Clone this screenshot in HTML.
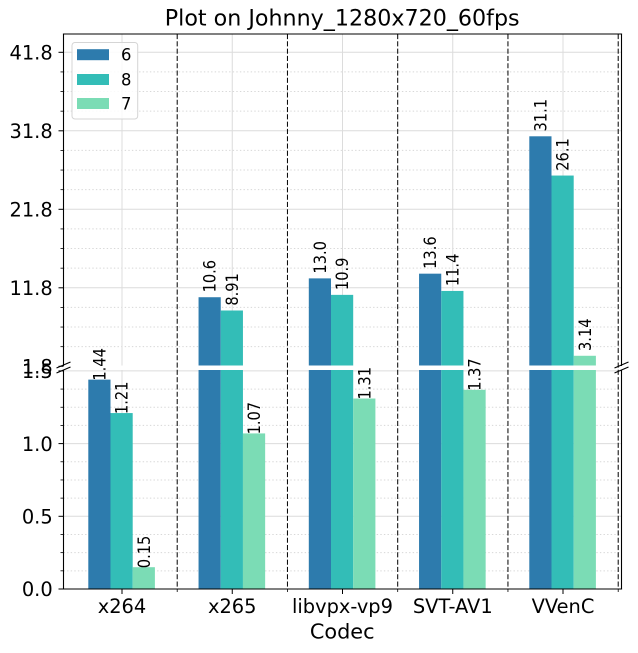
<!DOCTYPE html>
<html>
<head>
<meta charset="utf-8">
<title>Plot on Johnny_1280x720_60fps</title>
<style>
html,body{margin:0;padding:0;background:#fff;width:638px;height:653px;overflow:hidden}
svg{display:block;font-family:"DejaVu Sans","Liberation Sans",sans-serif}
</style>
</head>
<body>
<svg id="chart" xmlns="http://www.w3.org/2000/svg" width="638" height="653" viewBox="0 0 638 653">
  <text x="342.2" y="25.5" font-size="22.2" text-anchor="middle" fill="#000">Plot on Johnny_1280x720_60fps</text>
  <text x="342.2" y="638.5" font-size="20.8" text-anchor="middle" fill="#000">Codec</text>
</svg>
<script>
const categories = ["x264", "x265", "libvpx-vp9", "SVT-AV1", "VVenC"];
const seriesNames = ["6", "8", "7"];
const series6 = [1.44, 10.6, 13.0, 13.6, 31.1];
const series8 = [1.21, 8.91, 10.9, 11.4, 26.1];
const series7 = [0.15, 1.07, 1.31, 1.37, 3.14];
const upperTicks = [1.8, 11.8, 21.8, 31.8, 41.8];
const upperTickLabels = ["1.8", "11.8", "21.8", "31.8", "41.8"];
const lowerTicks = [0, 0.5, 1.0, 1.5];
const lowerTickLabels = ["0.0", "0.5", "1.0", "1.5"];

const seriesValues = [series6, series8, series7];
const seriesColors = ["#2d7bad", "#33bdb7", "#7bdcb5"];
const svg = document.getElementById("chart");
const NS = "http://www.w3.org/2000/svg";

const L = 63.5, R = 621.5, TOP = 34, BREAK_HI = 365.5, BREAK_LO = 370, BOTTOM = 589;
const BAR_W = 22.2;

function xCat(i) { return 122 + 110.25 * i; }
function yUpper(v) { return 366.3 - (v - 1.8) * 7.85; }
function yLower(v) { return 589 - v * 145.4; }

function node(tag, attrs, text) {
  const n = document.createElementNS(NS, tag);
  for (const k in attrs) n.setAttribute(k, attrs[k]);
  if (text !== undefined) n.textContent = text;
  svg.appendChild(n);
  return n;
}
function lbl(v) {
  return v < 1 ? v.toFixed(2) : v.toPrecision(3);
}

/* horizontal grid + ticks */
function drawAxis(ticks, labels, y, top, bottom, prefix) {
  ticks.forEach((t, i) => {
    const yy = y(t);
    if (yy >= top - 0.5 && yy <= bottom + 1 && !(prefix === "upper" && i === 0)) {
      const g = node("line", {x1: L, x2: R, y1: yy, y2: yy, stroke: "#dcdcdc", "stroke-width": 1});
      
      
    }
    const tk = node("line", {x1: L - 5, x2: L, y1: yy, y2: yy, stroke: "#000", "stroke-width": 1});
    
    
    const tx = node("text", {x: 52.7, y: yy + 7.2, "font-size": 19.4, "text-anchor": "end", fill: "#000"}, labels[i]);
    
    
    if (i < ticks.length - 1) {
      for (let m = 1; m < 4; m++) {
        const v = t + (ticks[i + 1] - t) * m / 4;
        const ym = y(v);
        const mg = node("line", {x1: L, x2: R, y1: ym, y2: ym, stroke: "#d8d8d8", "stroke-width": 1, "stroke-dasharray": "1.4 2.2"});
        
        
        const mt = node("line", {x1: L - 3, x2: L, y1: ym, y2: ym, stroke: "#000", "stroke-width": 0.8});
        
        
      }
    }
  });
}
drawAxis(upperTicks, upperTickLabels, yUpper, TOP, BREAK_HI, "upper");
drawAxis(lowerTicks, lowerTickLabels, yLower, BREAK_LO, BOTTOM, "lower");

/* vertical grid, x ticks, x labels, separators */
categories.forEach((c, i) => {
  const x = xCat(i);
  const g1 = node("line", {x1: x, x2: x, y1: TOP, y2: BREAK_HI, stroke: "#dcdcdc", "stroke-width": 1});
  
  
  const g2 = node("line", {x1: x, x2: x, y1: BREAK_LO, y2: BOTTOM, stroke: "#dcdcdc", "stroke-width": 1});
  
  
  const t = node("line", {x1: x, x2: x, y1: BOTTOM, y2: BOTTOM + 5, stroke: "#000", "stroke-width": 1});
  
  
  const lb = node("text", {x: x, y: 612.8, "font-size": 19.4, "text-anchor": "middle", fill: "#000"}, c);
  
  
  const sx = x + 55.2;
  const s = node("line", {x1: sx, x2: sx, y1: TOP, y2: BOTTOM, stroke: "#000", "stroke-width": 1, "stroke-dasharray": "5.1 2.2"});
  
  
  const mt = node("line", {x1: sx, x2: sx, y1: BOTTOM, y2: BOTTOM + 3, stroke: "#000", "stroke-width": 0.8});
  
  
});

/* bars */
seriesValues.forEach((vals, s) => {
  vals.forEach((v, i) => {
    const x = xCat(i) - 0.4 + (s - 1.5) * BAR_W;
    const yl = Math.max(yLower(v), BREAK_LO);
    const lo = node("rect", {x: x, y: yl, width: BAR_W, height: BOTTOM - yl, fill: seriesColors[s]});
    
    
    const yu = yUpper(v);
    if (yu < BREAK_HI) {
      const top = Math.max(yu, TOP);
      const up = node("rect", {x: x, y: top, width: BAR_W, height: BREAK_HI - top, fill: seriesColors[s]});
      
      
    }
  });
});

/* value labels */
seriesValues.forEach((vals, s) => {
  vals.forEach((v, i) => {
    const cx = xCat(i) - 0.4 + (s - 1) * BAR_W;
    const yu = yUpper(v);
    const by = yu < BREAK_HI ? yu - 4.8 : yLower(v) + 1;
    const t = node("text", {
      x: 0, y: 0, "font-size": 16.6, "text-anchor": "start", fill: "#000",
      transform: "translate(" + (cx + 6) + " " + by + ") rotate(-90) scale(0.88 1)"
    }, lbl(v));
    
    
  });
});

/* spines */
[[L, TOP, R, TOP, "top-spine"], [L, BOTTOM, R, BOTTOM, "bottom-spine"],
 [L, TOP, L, BREAK_HI, "left-spine-upper"], [L, BREAK_LO, L, BOTTOM, "left-spine-lower"],
 [R, TOP, R, BREAK_HI, "right-spine-upper"], [R, BREAK_LO, R, BOTTOM, "right-spine-lower"]].forEach(a => {
  const sp = node("line", {x1: a[0], y1: a[1], x2: a[2], y2: a[3], stroke: "#000", "stroke-width": 1.1, "stroke-linecap": "square"});
  
  
});

/* axis break marks */
[L, R].forEach(x => {
  [368, 373].forEach(y0 => {
    const b = node("line", {x1: x - 7, y1: y0, x2: x + 7, y2: y0 - 6, stroke: "#000", "stroke-width": 1.1});
    
    
  });
});

/* legend */
const lg = node("rect", {x: 72, y: 42.5, width: 65.7, height: 76.5, rx: 3, fill: "#fff", "fill-opacity": 0.85, stroke: "#d5d5d5", "stroke-width": 1});


const legendY = [49.2, 74, 98];
seriesNames.forEach((n, i) => {
  const sw = node("rect", {x: 77, y: legendY[i], width: 32, height: 11, fill: seriesColors[i]});
  
  
  const tx = node("text", {x: 121, y: legendY[i] + 11.3, "font-size": 16.4, fill: "#000"}, n);
  
  
});
</script>
</body>
</html>
